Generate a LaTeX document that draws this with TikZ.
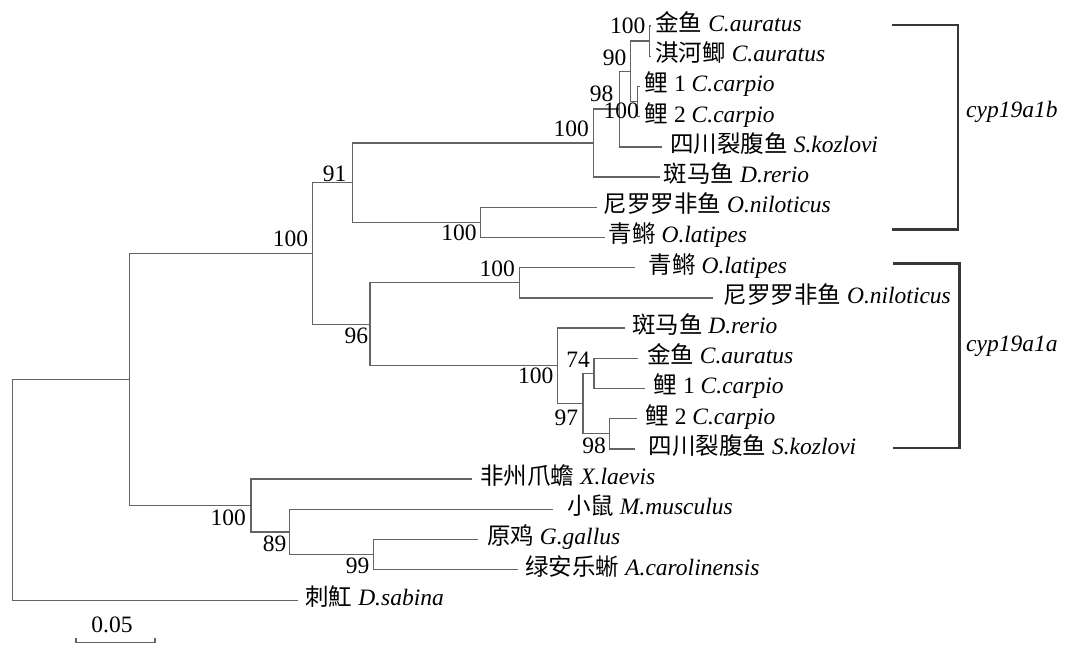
\documentclass[tikz,border=0pt]{standalone}
\usepackage{fontspec}
\setmainfont{Liberation Serif}
\newfontfamily\cjk{Noto Sans CJK SC}
\newcommand\zh[1]{{\cjk #1}}
\definecolor{treegray}{RGB}{100,100,100}
\definecolor{bracketgray}{RGB}{55,55,55}
\begin{document}
\begin{tikzpicture}[x=1pt,y=-1pt,
  every node/.style={font=\fontsize{23.5}{28}\selectfont, text=black},
  branch/.style={draw=treegray, line width=1.4pt},
  leaflab/.style={anchor=base west, inner sep=0pt},
  boot/.style={anchor=base east, inner sep=0pt},
  clade/.style={draw=bracketgray, line width=2.4pt},
  cladelab/.style={anchor=west, inner sep=0pt, font=\fontsize{23.5}{28}\selectfont\itshape}]
\useasboundingbox (0,0) rectangle (1071,645);

% leaf tips
\coordinate (l0) at (651,26.0);
\coordinate (l1) at (651,56.2);
\coordinate (l2) at (640,86.4);
\coordinate (l3) at (640,116.6);
\coordinate (l4) at (661.7,146.8);
\coordinate (l5) at (660,177.0);
\coordinate (l6) at (596.7,207.2);
\coordinate (l7) at (604.5,237.4);
\coordinate (l8) at (635,267.6);
\coordinate (l9) at (713,297.8);
\coordinate (l10) at (625,328.0);
\coordinate (l11) at (638.3,358.2);
\coordinate (l12) at (645,388.4);
\coordinate (l13) at (636.7,418.6);
\coordinate (l14) at (635,448.8);
\coordinate (l15) at (471.7,479.0);
\coordinate (l16) at (553.3,509.2);
\coordinate (l17) at (478.3,539.4);
\coordinate (l18) at (518.3,569.6);
\coordinate (l19) at (298,600.2);

% internal nodes
\coordinate (gq) at (649.3,41.1);
\coordinate (c12) at (637.3,101.5);
\coordinate (n90) at (630.7,71.3);
\coordinate (n98) at (619.3,109.05);
\coordinate (ncarp) at (593.3,143.0);
\coordinate (nolb) at (480.7,222.3);
\coordinate (n91) at (352.7,182.65);
\coordinate (nola) at (519.6,282.7);
\coordinate (n74) at (594,373.3);
\coordinate (n98a) at (609.5,433.7);
\coordinate (n97) at (583,403.5);
\coordinate (nzfa) at (557.2,365.75);
\coordinate (n96) at (370,324.2);
\coordinate (nbig) at (312.7,253.4);
\coordinate (n99) at (373.2,554.5);
\coordinate (n89) at (289.7,531.85);
\coordinate (ntet) at (250.9,505.4);
\coordinate (nA) at (129.4,379.4);
\coordinate (root) at (12.7,489.8);

% branches
\foreach \p/\c in {gq/l0,gq/l1,c12/l2,c12/l3,n90/gq,n90/c12,n98/n90,n98/l4,
  ncarp/n98,ncarp/l5,nolb/l6,nolb/l7,n91/ncarp,n91/nolb,nola/l8,nola/l9,
  n74/l11,n74/l12,n98a/l13,n98a/l14,n97/n74,n97/n98a,nzfa/l10,nzfa/n97,
  n96/nola,n96/nzfa,nbig/n91,nbig/n96,n99/l17,n99/l18,n89/l16,n89/n99,
  ntet/l15,ntet/n89,nA/nbig,nA/ntet,root/nA,root/l19}
  \draw[branch] (\p) |- (\c);

% leaf labels
\node[leaflab] (t0) at ([xshift=4.2pt,yshift=-5.5pt]l0) {\zh{金鱼} \textit{C.auratus}};
\node[leaflab] (t1) at ([xshift=4.2pt,yshift=-5.5pt]l1) {\zh{淇河鲫} \textit{C.auratus}};
\node[leaflab] (t2) at ([xshift=4.5pt,yshift=-5.5pt]l2) {\zh{鲤} 1 \textit{C.carpio}};
\node[leaflab] (t3) at ([xshift=4.5pt,yshift=-5.5pt]l3) {\zh{鲤} 2 \textit{C.carpio}};
\node[leaflab] (t4) at ([xshift=8.5pt,yshift=-5.5pt]l4) {\zh{四川裂腹鱼} \textit{S.kozlovi}};
\node[leaflab] (t5) at ([xshift=3.5pt,yshift=-5.5pt]l5) {\zh{斑马鱼} \textit{D.rerio}};
\node[leaflab] (t6) at ([xshift=6.8pt,yshift=-5.5pt]l6) {\zh{尼罗罗非鱼} \textit{O.niloticus}};
\node[leaflab] (t7) at ([xshift=4pt,yshift=-5.5pt]l7) {\zh{青鳉} \textit{O.latipes}};
\node[leaflab] (t8) at ([xshift=13.5pt,yshift=-5.5pt]l8) {\zh{青鳉} \textit{O.latipes}};
\node[leaflab] (t9) at ([xshift=10.5pt,yshift=-5.5pt]l9) {\zh{尼罗罗非鱼} \textit{O.niloticus}};
\node[leaflab] (t10) at ([xshift=6.8pt,yshift=-5.5pt]l10) {\zh{斑马鱼} \textit{D.rerio}};
\node[leaflab] (t11) at ([xshift=8.5pt,yshift=-5.5pt]l11) {\zh{金鱼} \textit{C.auratus}};
\node[leaflab] (t12) at ([xshift=8.5pt,yshift=-5.5pt]l12) {\zh{鲤} 1 \textit{C.carpio}};
\node[leaflab] (t13) at ([xshift=8.5pt,yshift=-5.5pt]l13) {\zh{鲤} 2 \textit{C.carpio}};
\node[leaflab] (t14) at ([xshift=13.5pt,yshift=-5.5pt]l14) {\zh{四川裂腹鱼} \textit{S.kozlovi}};
\node[leaflab] (t15) at ([xshift=8.5pt,yshift=-5.5pt]l15) {\zh{非州爪蟾} \textit{X.laevis}};
\node[leaflab] (t16) at ([xshift=13.5pt,yshift=-5.5pt]l16) {\zh{小鼠} \textit{M.musculus}};
\node[leaflab] (t17) at ([xshift=8.5pt,yshift=-5.5pt]l17) {\zh{原鸡} \textit{G.gallus}};
\node[leaflab] (t18) at ([xshift=6.9pt,yshift=-5.5pt]l18) {\zh{绿安乐蜥} \textit{A.carolinensis}};
\node[leaflab] (t19) at ([xshift=7.2pt,yshift=-5.5pt]l19) {\zh{刺魟} \textit{D.sabina}};

% bootstrap values
\node[boot] (b1) at (645.5,33.5) {100};
\node[boot] (b2) at (626.5,65) {90};
\node[boot] (b3) at (613.5,101.7) {98};
\node[boot] (b4) at (639,118.3) {100};
\node[boot] (b5) at (589,136.7) {100};
\node[boot] (b6) at (346.5,181) {91};
\node[boot] (b7) at (476.7,240.7) {100};
\node[boot] (b8) at (308.3,246) {100};
\node[boot] (b9) at (368.3,343.3) {96};
\node[boot] (b10) at (515,276.7) {100};
\node[boot] (b11) at (553.6,383.3) {100};
\node[boot] (b12) at (590,367) {74};
\node[boot] (b13) at (578.3,425) {97};
\node[boot] (b14) at (606,453.3) {98};
\node[boot] (b15) at (246,525) {100};
\node[boot] (b16) at (286.6,551.7) {89};
\node[boot] (b17) at (369.5,573.3) {99};

% clade brackets
\coordinate (cbT) at (891.7,25);
\coordinate (cbB) at (891.7,229.3);
\coordinate (caT) at (893.3,263.3);
\coordinate (caB) at (893.3,447.7);
\draw[clade] (cbT) -- ++(66,0) |- (cbB);
\draw[clade] (caT) -- ++(66,0) |- (caB);
\node[cladelab] (cb) at (966,112) {cyp19a1b};
\node[cladelab] (ca) at (966,346) {cyp19a1a};

% scale bar
\coordinate (sbL) at (76,642.7);
\coordinate (sbR) at (155,642.7);
\draw[branch] ([yshift=4.5pt]sbL) -- (sbL) -- (sbR) -- ([yshift=4.5pt]sbR);
\node[anchor=base, inner sep=0pt] (sbt) at (112,632.7) {0.05};
\end{tikzpicture}
\end{document}
